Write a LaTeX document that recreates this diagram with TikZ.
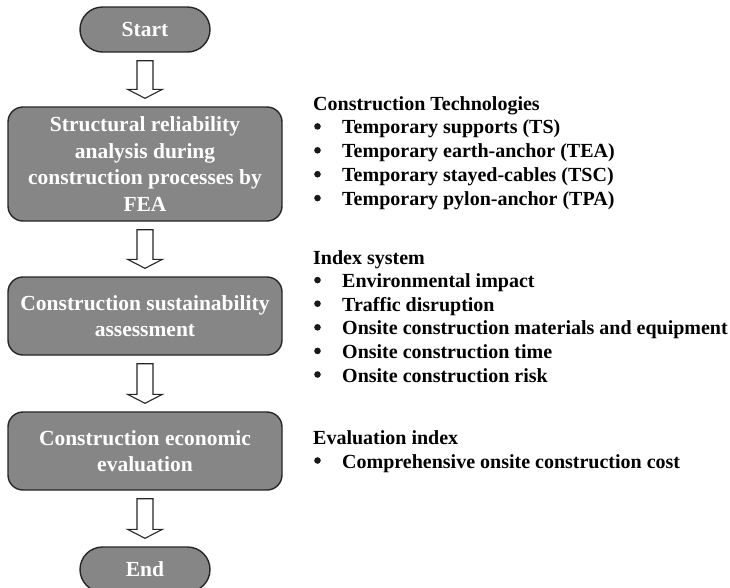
\documentclass[tikz,border=0pt]{standalone}
\usepackage{fontspec}
\setmainfont{Liberation Serif}
\usetikzlibrary{calc,shapes.misc,positioning}
\definecolor{boxgray}{RGB}{134,134,134}
\definecolor{edge}{RGB}{38,38,38}
\tikzset{
  term/.style={rounded rectangle,draw=edge,line width=1.4pt,fill=boxgray,text=white,
    font=\fontsize{21.5}{26.5}\selectfont\bfseries,minimum width=130pt,minimum height=45pt,inner sep=0pt},
  proc/.style={rectangle,rounded corners=15pt,draw=edge,line width=1.4pt,fill=boxgray,text=white,
    align=center,font=\fontsize{21.5}{26.5}\selectfont\bfseries,minimum width=274pt,inner sep=0pt},
  hol/.style={draw=edge,line width=1.1pt,fill=white,line join=miter},
  ttl/.style={anchor=base west,inner sep=0pt,font=\fontsize{20}{24}\selectfont\bfseries},
  itm/.style={anchor=base west,inner sep=0pt,font=\fontsize{20}{24}\selectfont\bfseries},
  blt/.style={circle,fill=black!90,inner sep=0pt,minimum size=6.6pt},
}
% hollow block arrow from the bottom of #1 to the top of #2
\newcommand{\blockarrow}[2]{%
  \draw[hol] ($(#1.south)+(-8pt,-8pt)$) -- ($(#2.north)+(-8pt,17pt)$) -- ++(-9.5pt,0pt)
    -- ($(#2.north)+(0pt,8pt)$) -- ($(#2.north)+(17.5pt,17pt)$) -- ++(-9.5pt,0pt)
    -- ($(#1.south)+(8pt,-8pt)$) -- cycle;}

\begin{document}
\begin{tikzpicture}[x=1pt,y=-1pt]
  \useasboundingbox (0,0) rectangle (730,587);
  % flow chart
  \node[term] (start) at (145,29.5) {Start};
  \node[proc,minimum height=114pt] (rel) at (145,164)
    {Structural reliability\\ analysis during\\ construction processes by\\ FEA};
  \node[proc,minimum height=78pt] (sus) at (145,316)
    {Construction sustainability\\ assessment};
  \node[proc,minimum height=78pt] (eco) at (145,451)
    {Construction economic\\ evaluation};
  \node[term] (stop) at (145,569.5) {End};
  \blockarrow{start}{rel}
  \blockarrow{rel}{sus}
  \blockarrow{sus}{eco}
  \blockarrow{eco}{stop}
  % side lists
  \node[ttl] (techttl) at (313,110) {Construction Technologies};
  \foreach \t [count=\i] in {Temporary supports (TS),Temporary earth-anchor (TEA),
      Temporary stayed-cables (TSC),Temporary pylon-anchor (TPA)} {
    \node[blt] (techdot\i) at (317.5,{102.5+23.9*\i}) {};
    \node[itm] (tech\i) at (342,{110+23.9*\i}) {\t};
  }
  \node[ttl] (idxttl) at (313,264) {Index system};
  \foreach \t [count=\i] in {Environmental impact,Traffic disruption,
      Onsite construction materials and equipment,Onsite construction time,
      Onsite construction risk} {
    \node[blt] (idxdot\i) at (317.5,{256.5+23.6*\i}) {};
    \node[itm] (idx\i) at (342,{264+23.6*\i}) {\t};
  }
  \node[ttl] (evalttl) at (313,444) {Evaluation index};
  \node[blt] (evaldot1) at (317.5,460.5) {};
  \node[itm] (eval1) at (342,468) {Comprehensive onsite construction cost};
\end{tikzpicture}
\end{document}
